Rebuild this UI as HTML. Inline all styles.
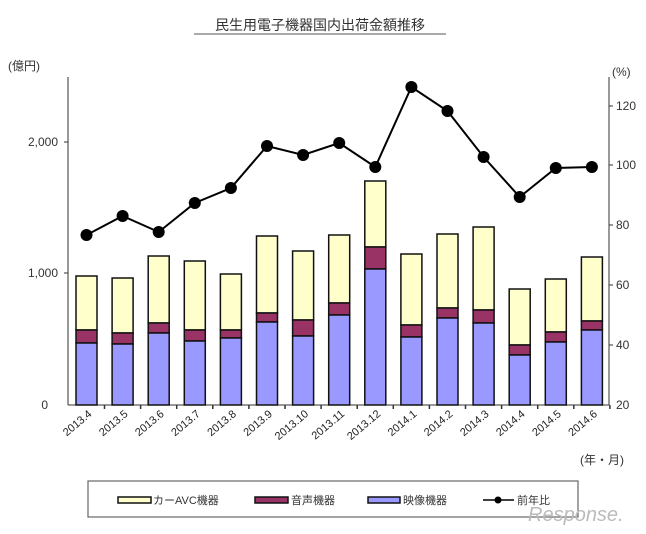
<!DOCTYPE html>
<html><head><meta charset="utf-8"><style>
body{margin:0;background:#fff;}
svg{display:block;font-family:"Liberation Sans","Noto Sans CJK JP",sans-serif;}
</style></head><body>
<svg width="646" height="534" viewBox="0 0 646 534" xmlns="http://www.w3.org/2000/svg">
<text x="320" y="30" font-size="14" text-anchor="middle" fill="#333">民生用電子機器国内出荷金額推移</text>
<line x1="194" y1="34" x2="446" y2="34" stroke="#555" stroke-width="1"/>
<text x="8" y="70" font-size="12" fill="#333">(億円)</text>
<text x="612" y="76" font-size="12" fill="#333">(%)</text>
<line x1="68" y1="77" x2="68" y2="405" stroke="#333"/>
<line x1="609" y1="77" x2="609" y2="405" stroke="#333"/>
<line x1="68" y1="405" x2="609" y2="405" stroke="#333"/>
<g stroke="#333">
<line x1="64" y1="142" x2="68" y2="142"/><line x1="64" y1="273" x2="68" y2="273"/>
<line x1="609" y1="106" x2="613" y2="106"/><line x1="609" y1="165" x2="613" y2="165"/><line x1="609" y1="225" x2="613" y2="225"/><line x1="609" y1="285" x2="613" y2="285"/><line x1="609" y1="345" x2="613" y2="345"/>
</g>
<g font-size="12" fill="#333" text-anchor="end">
<text x="58" y="146">2,000</text><text x="58" y="277">1,000</text><text x="48" y="409">0</text>
</g>
<g font-size="12" fill="#333">
<text x="616" y="110">120</text><text x="616" y="169">100</text><text x="616" y="229">80</text><text x="616" y="289">60</text><text x="616" y="349">40</text><text x="616" y="409">20</text>
</g>
<g id="bars" stroke="#111" stroke-width="1.5"></g>
<g id="xl" font-size="11" fill="#222" text-anchor="end"></g>
<polyline id="ln" fill="none" stroke="#000" stroke-width="2" points=""/>
<g id="pts" fill="#000"></g>
<text x="580" y="464" font-size="12" fill="#333">(年・月)</text>
<rect x="88" y="481" width="490" height="36" fill="#fff" stroke="#666" stroke-width="1.2"/>
<g font-size="11" fill="#333">
<rect x="118" y="497" width="33" height="6" fill="#ffffcc" stroke="#111" stroke-width="1.5"/><text x="153" y="504">カーAVC機器</text>
<rect x="255" y="497" width="33" height="6" fill="#993366" stroke="#111" stroke-width="1.5"/><text x="291" y="504">音声機器</text>
<rect x="368" y="497" width="32" height="6" fill="#9999ff" stroke="#111" stroke-width="1.5"/><text x="403" y="504">映像機器</text>
<line x1="483" y1="500" x2="514" y2="500" stroke="#000" stroke-width="1.5"/><circle cx="498" cy="500" r="3.5" fill="#000"/><text x="517" y="504">前年比</text>
</g>
<text x="528" y="521" font-size="20" fill="#bbb" font-style="italic">Response.</text>
</svg>
<script>
var d=[[276,330,343],[278,333,344],[256,323,333],[261,330,341],[274,330,338],[236,313,322],[251,320,336],[235,303,315],[181,247,269],[254,325,337],[234,308,318],[227,310,323],[289,345,355],[279,332,342],[257,321,330]];
var L=[235,216,232,203,188,146,155,143,167,87,111,157,197,168,167];
var labs=["2013.4","2013.5","2013.6","2013.7","2013.8","2013.9","2013.10","2013.11","2013.12","2014.1","2014.2","2014.3","2014.4","2014.5","2014.6"];
var ns="http://www.w3.org/2000/svg",b=document.getElementById("bars"),xl=document.getElementById("xl"),pts=document.getElementById("pts"),P=[];
function r(x,y,h,f){var e=document.createElementNS(ns,"rect");e.setAttribute("x",x);e.setAttribute("y",y);e.setAttribute("width",21);e.setAttribute("height",h);e.setAttribute("fill",f);b.appendChild(e);}
d.forEach(function(v,i){var c=86.5+36.1*i,x=c-10.5;
r(x,v[0],v[1]-v[0],"#ffffcc");r(x,v[1],v[2]-v[1],"#993366");r(x,v[2],405-v[2],"#9999ff");
var t=document.createElementNS(ns,"text");t.setAttribute("transform","translate("+(c+6)+",415) rotate(-40)");t.textContent=labs[i];xl.appendChild(t);
var tk=document.createElementNS(ns,"line");tk.setAttribute("x1",c+18);tk.setAttribute("x2",c+18);tk.setAttribute("y1",405);tk.setAttribute("y2",409);tk.setAttribute("stroke","#333");b.appendChild(tk);
P.push(c+","+L[i]);var ci=document.createElementNS(ns,"circle");ci.setAttribute("cx",c);ci.setAttribute("cy",L[i]);ci.setAttribute("r",6);pts.appendChild(ci);});
document.getElementById("ln").setAttribute("points",P.join(" "));
</script>
</body></html>
